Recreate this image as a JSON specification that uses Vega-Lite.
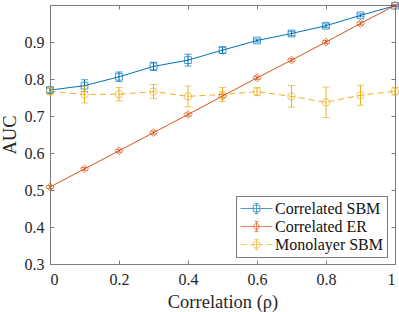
{
  "$schema": "https://vega.github.io/schema/vega-lite/v6.json",
  "width": 345,
  "height": 259,
  "autosize": {"type": "none"},
  "padding": {"left": 50, "top": 5, "right": 4, "bottom": 48},
  "background": "white",
  "config": {
    "view": {"stroke": "#7a7a7a", "strokeWidth": 1},
    "font": "Liberation Serif",
    "axis": {
      "grid": false,
      "domain": false,
      "tickColor": "#7a7a7a",
      "tickSize": -4,
      "labelFont": "Liberation Serif",
      "labelFontSize": 16,
      "labelColor": "#262626",
      "titleFont": "Liberation Serif",
      "titleFontSize": 18.5,
      "titleFontWeight": "normal",
      "titleColor": "#262626"
    },
    "legend": {"labelFont": "Liberation Serif", "labelFontSize": 16, "labelColor": "#111111"}
  },
  "data": {
    "values": [
      {"rho": 0.0, "series": "Correlated SBM", "auc": 0.770, "err": 0.006},
      {"rho": 0.1, "series": "Correlated SBM", "auc": 0.782, "err": 0.016},
      {"rho": 0.2, "series": "Correlated SBM", "auc": 0.806, "err": 0.013},
      {"rho": 0.3, "series": "Correlated SBM", "auc": 0.834, "err": 0.011},
      {"rho": 0.4, "series": "Correlated SBM", "auc": 0.851, "err": 0.016},
      {"rho": 0.5, "series": "Correlated SBM", "auc": 0.878, "err": 0.008},
      {"rho": 0.6, "series": "Correlated SBM", "auc": 0.904, "err": 0.004},
      {"rho": 0.7, "series": "Correlated SBM", "auc": 0.923, "err": 0.006},
      {"rho": 0.8, "series": "Correlated SBM", "auc": 0.944, "err": 0.005},
      {"rho": 0.9, "series": "Correlated SBM", "auc": 0.972, "err": 0.004},
      {"rho": 1.0, "series": "Correlated SBM", "auc": 0.998, "err": 0.002},
      {"rho": 0.0, "series": "Correlated ER", "auc": 0.508, "err": 0.004},
      {"rho": 0.1, "series": "Correlated ER", "auc": 0.557, "err": 0.004},
      {"rho": 0.2, "series": "Correlated ER", "auc": 0.606, "err": 0.004},
      {"rho": 0.3, "series": "Correlated ER", "auc": 0.655, "err": 0.004},
      {"rho": 0.4, "series": "Correlated ER", "auc": 0.704, "err": 0.004},
      {"rho": 0.5, "series": "Correlated ER", "auc": 0.754, "err": 0.004},
      {"rho": 0.6, "series": "Correlated ER", "auc": 0.803, "err": 0.004},
      {"rho": 0.7, "series": "Correlated ER", "auc": 0.851, "err": 0.004},
      {"rho": 0.8, "series": "Correlated ER", "auc": 0.900, "err": 0.004},
      {"rho": 0.9, "series": "Correlated ER", "auc": 0.950, "err": 0.004},
      {"rho": 1.0, "series": "Correlated ER", "auc": 0.999, "err": 0.002},
      {"rho": 0.0, "series": "Monolayer SBM", "auc": 0.767, "err": 0.010},
      {"rho": 0.1, "series": "Monolayer SBM", "auc": 0.758, "err": 0.023},
      {"rho": 0.2, "series": "Monolayer SBM", "auc": 0.759, "err": 0.018},
      {"rho": 0.3, "series": "Monolayer SBM", "auc": 0.766, "err": 0.019},
      {"rho": 0.4, "series": "Monolayer SBM", "auc": 0.753, "err": 0.028},
      {"rho": 0.5, "series": "Monolayer SBM", "auc": 0.758, "err": 0.019},
      {"rho": 0.6, "series": "Monolayer SBM", "auc": 0.766, "err": 0.011},
      {"rho": 0.7, "series": "Monolayer SBM", "auc": 0.753, "err": 0.029},
      {"rho": 0.8, "series": "Monolayer SBM", "auc": 0.737, "err": 0.041},
      {"rho": 0.9, "series": "Monolayer SBM", "auc": 0.756, "err": 0.027},
      {"rho": 1.0, "series": "Monolayer SBM", "auc": 0.767, "err": 0.010}
    ]
  },
  "resolve": {"axis": {"x": "independent", "y": "independent"}},
  "layer": [
    {
      "transform": [{"filter": "datum.series !== 'Monolayer SBM'"}],
      "mark": {"type": "line", "strokeWidth": 1},
      "encoding": {
        "x": {"field": "rho", "type": "quantitative", "scale": {"domain": [0, 1], "nice": false},
          "axis": {"orient": "bottom", "values": [0, 0.2, 0.4, 0.6, 0.8, 1], "format": "~g", "labelPadding": 11, "title": "Correlation (ρ)", "titlePadding": 5}},
        "y": {"field": "auc", "type": "quantitative", "scale": {"domain": [0.3, 1], "nice": false, "zero": false},
          "axis": {"orient": "left", "values": [0.3, 0.4, 0.5, 0.6, 0.7, 0.8, 0.9], "format": "~g", "labelPadding": 10, "title": "AUC", "titlePadding": 5}},
        "color": {"field": "series", "type": "nominal",
          "scale": {"domain": ["Correlated SBM", "Correlated ER", "Monolayer SBM"], "range": ["#0072BD", "#D95319", "#EDB120"]}}
      }
    },
    {
      "transform": [{"filter": "datum.series === 'Monolayer SBM'"}],
      "mark": {"type": "line", "strokeWidth": 1, "strokeDash": [6, 4]},
      "encoding": {
        "x": {"field": "rho", "type": "quantitative", "axis": null},
        "y": {"field": "auc", "type": "quantitative", "axis": null},
        "color": {"field": "series", "type": "nominal"}
      }
    },
    {
      "transform": [{"filter": "datum.series === 'Correlated SBM'"}],
      "mark": {"type": "errorbar", "color": "#0072BD", "thickness": 1, "ticks": {"size": 7}},
      "encoding": {
        "x": {"field": "rho", "type": "quantitative", "axis": null},
        "y": {"field": "auc", "type": "quantitative", "axis": null},
        "yError": {"field": "err"}
      }
    },
    {
      "transform": [{"filter": "datum.series === 'Correlated ER'"}],
      "mark": {"type": "errorbar", "color": "#D95319", "thickness": 1, "ticks": {"size": 7}},
      "encoding": {
        "x": {"field": "rho", "type": "quantitative", "axis": null},
        "y": {"field": "auc", "type": "quantitative", "axis": null},
        "yError": {"field": "err"}
      }
    },
    {
      "transform": [{"filter": "datum.series === 'Monolayer SBM'"}],
      "mark": {"type": "errorbar", "color": "#EDB120", "thickness": 1, "ticks": {"size": 7}},
      "encoding": {
        "x": {"field": "rho", "type": "quantitative", "axis": null},
        "y": {"field": "auc", "type": "quantitative", "axis": null},
        "yError": {"field": "err"}
      }
    },
    {
      "transform": [{"filter": "datum.series === 'Correlated SBM'"}],
      "mark": {"type": "point", "shape": "square", "filled": false, "strokeWidth": 1, "size": 46},
      "encoding": {
        "x": {"field": "rho", "type": "quantitative",
          "axis": {"orient": "top", "values": [0, 0.2, 0.4, 0.6, 0.8, 1], "labels": false, "title": null}},
        "y": {"field": "auc", "type": "quantitative",
          "axis": {"orient": "right", "values": [0.3, 0.4, 0.5, 0.6, 0.7, 0.8, 0.9], "labels": false, "title": null}},
        "color": {"field": "series", "type": "nominal"}
      }
    },
    {
      "transform": [{"filter": "datum.series === 'Correlated ER'"}],
      "mark": {"type": "point", "shape": "diamond", "filled": false, "strokeWidth": 1, "size": 64},
      "encoding": {
        "x": {"field": "rho", "type": "quantitative", "axis": null},
        "y": {"field": "auc", "type": "quantitative", "axis": null},
        "color": {"field": "series", "type": "nominal"}
      }
    },
    {
      "transform": [{"filter": "datum.series === 'Monolayer SBM'"}],
      "mark": {"type": "point", "shape": "circle", "filled": false, "strokeWidth": 1, "size": 56},
      "encoding": {
        "x": {"field": "rho", "type": "quantitative", "axis": null},
        "y": {"field": "auc", "type": "quantitative", "axis": null},
        "color": {"field": "series", "type": "nominal"}
      }
    },
    {
      "mark": {"type": "point", "filled": false, "strokeWidth": 1, "size": 1},
      "encoding": {
        "x": {"field": "rho", "type": "quantitative", "axis": null},
        "y": {"field": "auc", "type": "quantitative", "axis": null},
        "color": {"field": "series", "type": "nominal",
          "legend": {
            "title": null,
            "orient": "none",
            "legendX": 186,
            "legendY": 191,
            "fillColor": "white",
            "strokeColor": "#7a7a7a",
            "padding": 4,
            "symbolSize": 256,
            "symbolStrokeWidth": 1,
            "symbolOffset": 8,
            "labelOffset": 10,
            "rowPadding": 1
          }},
        "shape": {"field": "series", "type": "nominal",
          "scale": {"domain": ["Correlated SBM", "Correlated ER", "Monolayer SBM"],
            "range": [
              "M-2,0H2M-0.41,-0.41H0.41V0.41H-0.41ZM0,-0.64V0.64M-0.24,-0.64H0.24M-0.24,0.64H0.24",
              "M-2,0H2M0,-0.52L0.4,0L0,0.52L-0.4,0ZM0,-0.64V0.64M-0.24,-0.64H0.24M-0.24,0.64H0.24",
              "M-2,0H-1.24M-0.76,0H0.76M1.24,0H2M0.44,0A0.44,0.44 0 1,1 -0.44,0A0.44,0.44 0 1,1 0.44,0M0,-0.64V0.64M-0.24,-0.64H0.24M-0.24,0.64H0.24"
            ]},
          "legend": {
            "title": null,
            "orient": "none",
            "legendX": 186,
            "legendY": 191,
            "fillColor": "white",
            "strokeColor": "#7a7a7a",
            "padding": 4,
            "symbolSize": 256,
            "symbolStrokeWidth": 1,
            "symbolOffset": 8,
            "labelOffset": 10,
            "rowPadding": 1
          }}
      }
    }
  ]
}
